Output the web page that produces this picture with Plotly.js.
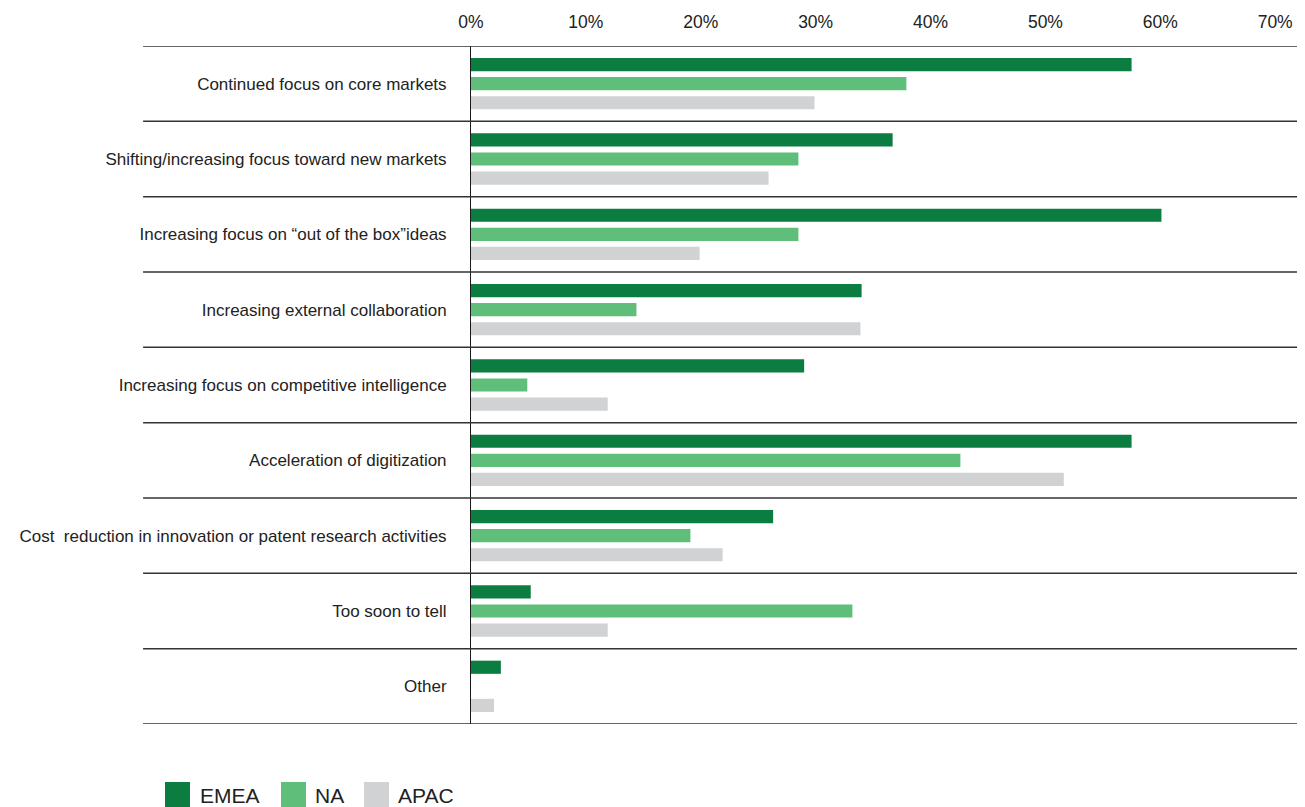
<!DOCTYPE html>
<html>
<head>
<meta charset="utf-8">
<script src="https://cdn.plot.ly/plotly-3.0.1.min.js"></script>
<style>html,body{margin:0;padding:0;background:#fff;}#chart{width:1305px;height:807px;}</style>
</head>
<body>
<div id="chart"></div>
<script>
const categories = [
  "Continued focus on core markets",
  "Shifting/increasing focus toward new markets",
  "Increasing focus on \u201cout of the box\u201dideas",
  "Increasing external collaboration",
  "Increasing focus on competitive intelligence",
  "Acceleration of digitization",
  "Cost\u00a0 reduction in innovation or patent research activities",
  "Too soon to tell",
  "Other"
];
const seriesNames = ["EMEA", "NA", "APAC"];
const emea = [57.5, 36.7, 60.1, 34.0, 29.0, 57.5, 26.3, 5.2, 2.6];
const na   = [37.9, 28.5, 28.5, 14.4, 4.9, 42.6, 19.1, 33.2, 0];
const apac = [29.9, 25.9, 19.9, 33.9, 11.9, 51.6, 21.9, 11.9, 2.0];
const colors = ["#0b7d40", "#5fbf7a", "#d1d2d4"];
const tickVals = [0, 10, 20, 30, 40, 50, 60, 70];
const tickText = ["0%", "10%", "20%", "30%", "40%", "50%", "60%", "70%"];

const values = [emea, na, apac];
const traces = values.map((v, i) => ({
  type: "bar",
  orientation: "h",
  name: seriesNames[i],
  x: v,
  y: categories,
  marker: {color: colors[i], line: {width: 0}},
  hoverinfo: "x+y+name"
}));

const shapes = [];
for (let i = 0; i <= categories.length; i++) {
  shapes.push({
    type: "line", xref: "paper", yref: "y",
    x0: -0.397, x1: 1, y0: i - 0.5, y1: i - 0.5,
    line: {color: "#333333", width: 1.5}
  });
}
// manual legend (pixel anchors converted to paper coords)
const legendSwatchX = [165, 281, 364];
const legendTextX = [200, 315, 398];
const px = (x) => (x - 471) / 826;
const py = (y) => -(y - 724) / 678;
const annotations = [];
seriesNames.forEach((n, i) => {
  shapes.push({
    type: "rect", xref: "paper", yref: "paper",
    x0: px(legendSwatchX[i]), x1: px(legendSwatchX[i] + 25),
    y0: py(782), y1: py(807),
    fillcolor: colors[i], line: {width: 0}
  });
  annotations.push({
    xref: "paper", yref: "paper",
    x: px(legendTextX[i] - 2), y: py(795),
    xanchor: "left", yanchor: "middle", showarrow: false,
    text: n, font: {family: "Liberation Sans, Arial, sans-serif", size: 21, color: "#222"}
  });
});

const layout = {
  width: 1305, height: 807,
  margin: {l: 471, r: 8, t: 46, b: 83},
  paper_bgcolor: "#ffffff", plot_bgcolor: "#ffffff",
  barmode: "group", bargap: 0.24, bargroupgap: 0.31,
  showlegend: false,
  xaxis: {
    side: "top", range: [0, 71.9], tickvals: tickVals, ticktext: tickText,
    showgrid: false, zeroline: false, showline: false,
    ticks: "outside", ticklen: 10, tickcolor: "rgba(0,0,0,0)",
    tickfont: {family: "Liberation Sans, Arial, sans-serif", size: 17.5, color: "#222"},
    fixedrange: true
  },
  yaxis: {
    type: "category", range: [8.5, -0.5], autorange: false,
    showgrid: false, zeroline: false, showline: true, linecolor: "#1a1a1a", linewidth: 1,
    ticks: "outside", ticklen: 20, tickcolor: "rgba(0,0,0,0)",
    tickfont: {family: "Liberation Sans, Arial, sans-serif", size: 17, color: "#222"},
    fixedrange: true
  },
  shapes: shapes,
  annotations: annotations
};

Plotly.newPlot("chart", traces, layout, {displayModeBar: false, staticPlot: true});
</script>
</body>
</html>
